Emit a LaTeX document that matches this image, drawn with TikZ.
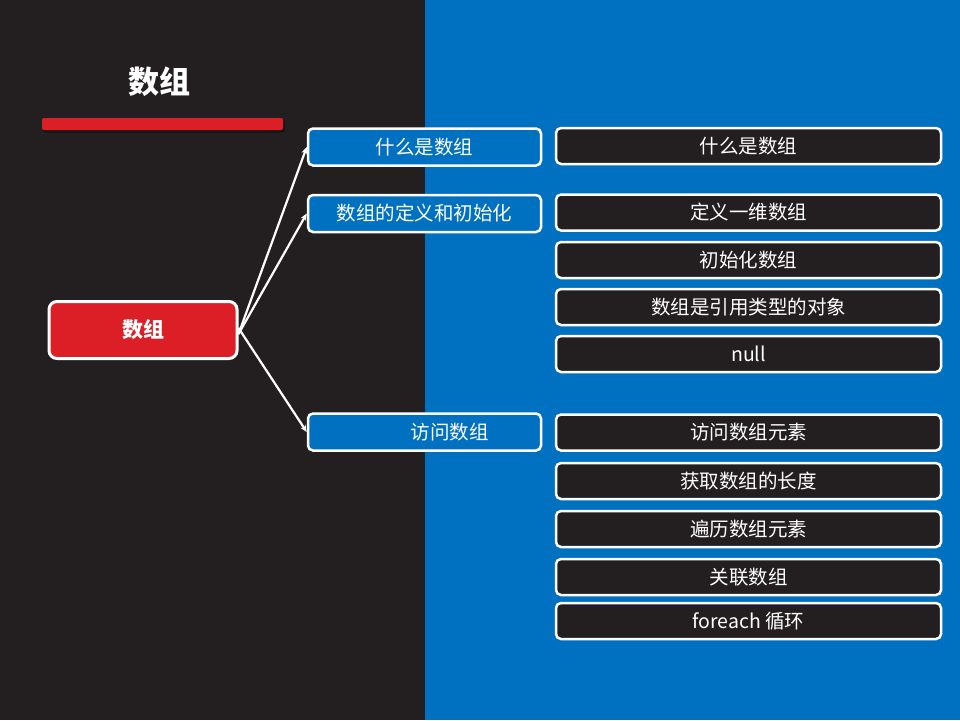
\documentclass[tikz,border=0pt]{standalone}
\usepackage{fontspec}
\setmainfont{Noto Sans CJK SC}
\usetikzlibrary{arrows.meta,shadows}
\definecolor{darkbg}{HTML}{231F20}
\definecolor{bluebg}{HTML}{0070C0}
\definecolor{redc}{HTML}{DC1F26}
\tikzset{
  lvone/.style={draw=white, line width=2.5pt, fill=bluebg, rounded corners=5pt, minimum width=233pt, minimum height=37pt, inner sep=0pt, text=white, font=\fontsize{19.5}{19.5}\selectfont},
  lvtwo/.style={draw=white, line width=2.5pt, fill=darkbg, rounded corners=5pt, minimum width=385pt, minimum height=36pt, inner sep=0pt, text=white, font=\fontsize{19.5}{19.5}\selectfont},
  conn/.style={draw=white, line width=2.2pt, -{Stealth[length=7pt,width=6pt]}}
}
\begin{document}
\begin{tikzpicture}[x=1pt,y=-1pt]
\useasboundingbox (0,0) rectangle (960,720);
\fill[darkbg] (0,0) rectangle (425,720);
\fill[bluebg] (425,0) rectangle (960,720);
% title
\node[text=white, font=\fontsize{31}{31}\selectfont\bfseries] (title) at (159,82) {数组};
\fill[black, opacity=0.35, rounded corners=2pt] (43,120) rectangle (285,132.5);
\fill[redc, rounded corners=2pt] (42,118) rectangle (283,130);
% main
\node[draw=white, line width=3pt, fill=redc, rounded corners=8pt, minimum width=188pt, minimum height=57pt, inner sep=0pt, text=white, font=\fontsize{21}{21}\selectfont\bfseries] (main) at (143,330) {数组};
% level one
\node[lvone] (a) at (424.5,147) {什么是数组};
\node[lvone] (b) at (424.5,213.5) {数组的定义和初始化};
\node[lvone] (c) at (424.5,432) {\hspace*{50pt}访问数组};
% level two
\node[lvtwo] (a1) at (748.5,146) {什么是数组};
\node[lvtwo] (b1) at (748.5,212.5) {定义一维数组};
\node[lvtwo] (b2) at (748.5,260) {初始化数组};
\node[lvtwo] (b3) at (748.5,307) {数组是引用类型的对象};
\node[lvtwo] (b4) at (748.5,354) {null};
\node[lvtwo] (c1) at (748.5,432.5) {访问数组元素};
\node[lvtwo] (c2) at (748.5,481) {获取数组的长度};
\node[lvtwo] (c3) at (748.5,529) {遍历数组元素};
\node[lvtwo] (c4) at (748.5,577) {关联数组};
\node[lvtwo] (c5) at (748.5,621) {foreach 循环};
% connectors
\draw[conn] ([yshift=-4pt]main.east) -- (a.west);
\draw[conn] ([yshift=-4pt]main.east) -- (b.west);
\draw[conn] ([yshift=2pt]main.east) -- (c.west);
\end{tikzpicture}
\end{document}
